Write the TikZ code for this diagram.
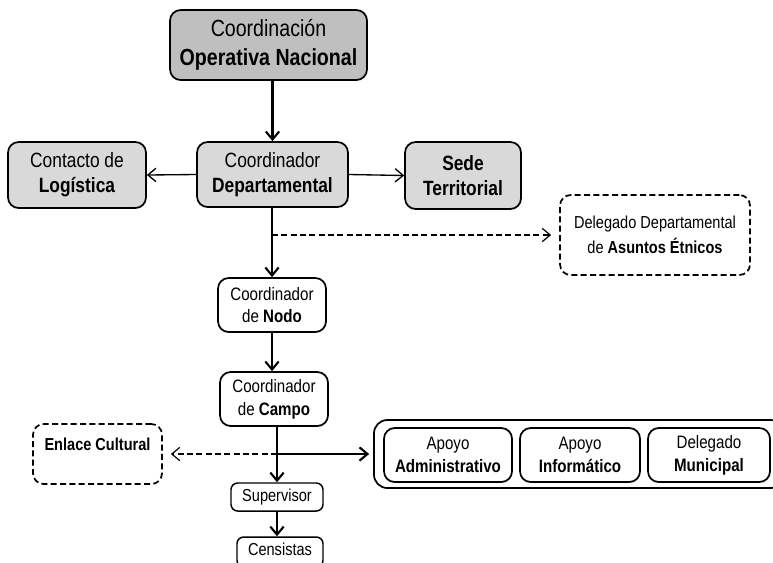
\documentclass[tikz,border=0pt]{standalone}
\usepackage{fontspec}
\setmainfont{Liberation Sans}[FakeStretch=0.84]
\usetikzlibrary{arrows.meta, positioning}
\definecolor{boxgray}{RGB}{191,191,191}
\definecolor{lightgray}{RGB}{217,217,217}

\begin{document}
\begin{tikzpicture}[x=0.75pt, y=-0.75pt, >={Straight Barb[length=6pt,width=10pt]},
    box/.style={draw, line width=1.3pt, rounded corners=8pt, align=center, inner sep=2pt},
    grayb/.style={box, fill=lightgray, font=\fontsize{15.5}{19}\selectfont},
    dashb/.style={box, dash pattern=on 4.5pt off 2.5pt, font=\fontsize{13}{19}\selectfont},
    small/.style={box, font=\fontsize{13.5}{17}\selectfont},
    main/.style={line width=1.6pt, ->},
    side/.style={line width=1pt, ->},
    dline/.style={dash pattern=on 4.5pt off 2.5pt, line width=0.9pt, ->, shorten >=8*0.75pt}]
    \clip (0,0) rectangle (773,562);
    \fill[white] (0,0) rectangle (773,562);

    % Top levels
    \node[grayb, fill=boxgray, minimum width=197*0.75pt, minimum height=70*0.75pt,
        font=\fontsize{17.5}{22}\selectfont] (con) at (268.5,45)
        {Coordinación\\\textbf{Operativa Nacional}};
    \node[grayb, minimum width=151*0.75pt, minimum height=65*0.75pt] (cd) at (272.5,174.5)
        {Coordinador\\\textbf{Departamental}};
    \node[grayb, minimum width=138*0.75pt, minimum height=66*0.75pt] (log) at (77,175)
        {Contacto de\\\textbf{Logística}};
    \node[grayb, minimum width=116*0.75pt, minimum height=67*0.75pt] (sede) at (463,175.5)
        {\textbf{Sede}\\\textbf{Territorial}};
    \node[dashb, minimum width=190*0.75pt, minimum height=80*0.75pt] (ddae) at (655,235)
        {Delegado Departamental\\de \textbf{Asuntos Étnicos}};

    % Field chain
    \node[small, minimum width=108*0.75pt, minimum height=54*0.75pt] (nodo) at (272,305)
        {Coordinador\\de \textbf{Nodo}};
    \node[small, minimum width=108*0.75pt, minimum height=54*0.75pt] (campo) at (274,399)
        {Coordinador\\de \textbf{Campo}};
    \node[box, line width=1.1pt, rounded corners=5pt, minimum width=92*0.75pt, minimum height=28*0.75pt,
        font=\fontsize{13}{15}\selectfont] (sup) at (277,497) {Supervisor};
    \node[box, line width=1.1pt, rounded corners=5pt, minimum width=86*0.75pt, minimum height=30*0.75pt,
        font=\fontsize{13}{15}\selectfont, text depth=4.5pt] (cen) at (280,552) {Censistas};
    \node[dashb, minimum width=129*0.75pt, minimum height=60*0.75pt, text depth=14pt] (enl) at (97.5,454)
        {\textbf{Enlace Cultural}};

    % Support group
    \node[box, line width=1.3pt, rounded corners=10pt, minimum width=410*0.75pt, minimum height=68*0.75pt]
        (grp) at (579,454) {};
    \node[small, minimum width=128*0.75pt, minimum height=54*0.75pt] (adm) at (448,455)
        {Apoyo\\\textbf{Administrativo}};
    \node[small, minimum width=120*0.75pt, minimum height=54*0.75pt] (inf) at (580,455)
        {Apoyo\\\textbf{Informático}};
    \node[small, minimum width=122*0.75pt, minimum height=54*0.75pt] (mun) at (709,455)
        {Delegado\\\textbf{Municipal}};

    % Connectors
    \draw[main] (cd.north |- con.south) -- (cd.north);
    \draw[side] (cd.west) -- (log.east);
    \draw[side] (cd.east) -- (sede.west);
    \draw[main] (cd.south -| nodo.north) -- (nodo.north);
    \coordinate (b1) at (nodo.north |- ddae.west);
    \draw[dline] (b1) -- (ddae.west);
    \draw[main] (nodo.south) -- (nodo.south |- campo.north);
    \draw[main] (campo.south -| sup.north) -- (sup.north);
    \coordinate (b2) at (campo.south -| sup.north);
    \coordinate (b3) at (b2 |- grp.west);
    \draw[main, shorten >=4*0.75pt] (b3) -- (grp.west);
    \draw[dline] (b3) -- (enl.east);
    \draw[main] (sup.south) -- (sup.south |- cen.north);
\end{tikzpicture}
\end{document}
